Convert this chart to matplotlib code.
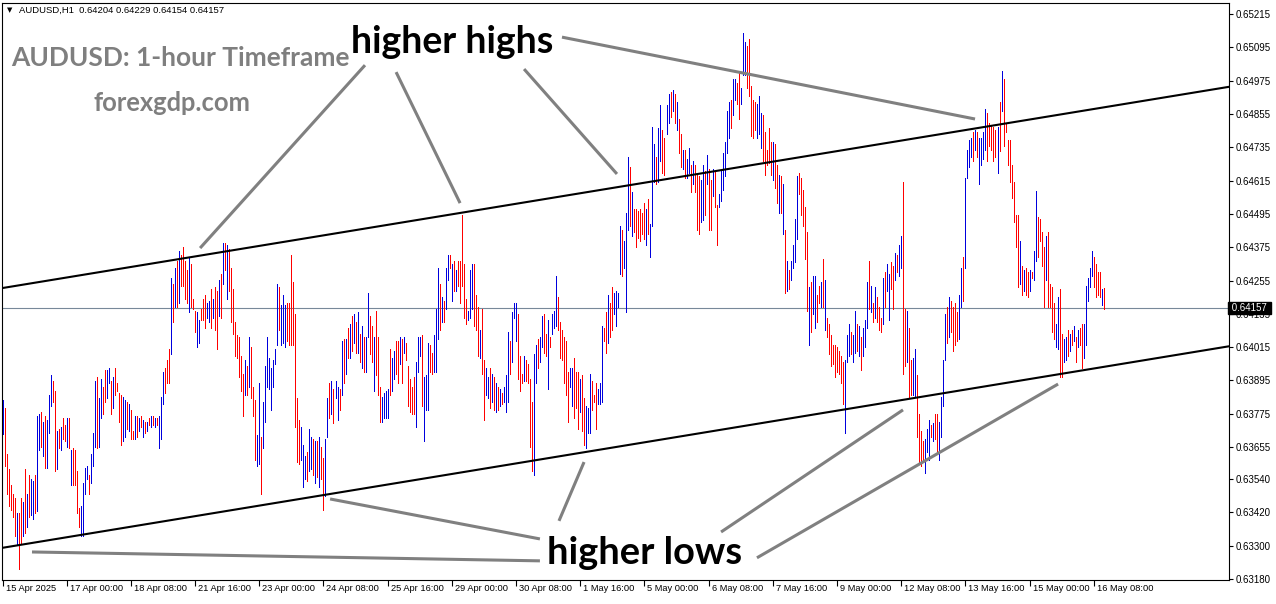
import numpy as np
import matplotlib
matplotlib.use("Agg")
import matplotlib.pyplot as plt
from matplotlib.collections import LineCollection
import matplotlib.transforms as mtrans

# ---------------- data ----------------
symbol_header = "AUDUSD,H1  0.64204 0.64229 0.64154 0.64157"
last_price = 0.64157

# hourly highs / lows in points (1 point = 0.00001)
high_pts = [
    63826, 63795, 63630, 63575, 63519, 63485, 63471, 63416, 63416, 63471,
    63457, 63575, 63485, 63554, 63540, 63533, 63554, 63768, 63775, 63782,
    63747, 63768, 63754, 63844, 63913, 63892, 63857, 63713, 63719, 63726,
    63761, 63733, 63761, 63761, 63644, 63650, 63644, 63568, 63437, 63443,
    63526, 63581, 63588, 63554, 63630, 63706, 63892, 63906, 63830, 63899,
    63871, 63933, 63933, 63940, 63892, 63906, 63940, 63885, 63851, 63844,
    63837, 63823, 63816, 63809, 63788, 63713, 63768, 63768, 63761, 63768,
    63754, 63747, 63747, 63761, 63768, 63768, 63761, 63761, 63768, 63837,
    63926, 63940, 63968, 64009, 64265, 64244, 64299, 64327, 64361, 64347,
    64375, 64327, 64292, 64340, 64313, 64189, 64147, 64140, 64113, 64154,
    64189, 64202, 64175, 64182, 64223, 64189,
    64230, 64216, 64258, 64278, 64389, 64389, 64382, 64368, 64299, 64223,
    64106, 64058, 64051, 63982, 63920, 63968, 63947, 64051, 64016, 63871,
    63823, 63699, 63885, 63692, 63816, 63947, 64051, 63975, 63940, 63968,
    64009, 64244, 64230, 64168, 64202, 64168, 64175, 64175, 64347, 64251,
    64133, 63830, 63754, 63726, 63664, 63623, 63637, 63719, 63692, 63685,
    63678, 63678, 63692, 63657, 63616, 63685, 63830, 63885, 63892, 63864,
    63892, 63871, 63864, 64037, 64044, 64044, 64085, 64099, 64127, 64133,
    64106, 64140, 64064, 64092, 64051, 64051, 64209, 64127, 64092, 64051,
    64147, 64051, 63871, 63837, 63851, 63857, 63864, 64009, 63975, 64002,
    64037, 64037, 64051, 64044, 64051, 64030, 63947, 63899, 63871, 63906,
    63961, 64051, 64051,
    64058, 63906, 63913, 64030, 64023, 63995, 64058, 64154, 64299, 64244,
    64196, 64182, 64299, 64347, 64347, 64313, 64327, 64292, 64327, 64327,
    64492, 64313, 64189, 64147, 64292, 64313, 64313, 64202, 64161, 64078,
    64154, 63968, 63940, 63906, 63940, 63920, 63906, 63885, 63871, 63864,
    63851, 63871, 63913, 64071, 64037, 64140, 64175, 64175, 64133, 63982,
    63920, 63982, 63968, 63954, 63899, 63816, 63992, 64023, 64044, 64051,
    64127, 64133, 64064, 64113, 64051, 64133, 64147, 64271, 64196, 64106,
    64078, 64051, 64037, 63926, 63940, 63940, 63975, 63926, 63926, 63899,
    63913, 63830, 63802, 63795, 63920, 63892, 63844, 63885, 63864, 63885,
    64092, 64085, 64140, 64202, 64175, 64230, 64209, 64216, 64209, 64451,
    64437, 64396,
    64499, 64699, 64665, 64575, 64513, 64513, 64506, 64513, 64499, 64534,
    64513, 64547, 64458, 64810, 64748, 64699, 64803, 64886, 64796, 64768,
    64886, 64927, 64934, 64941, 64927, 64899, 64837, 64782, 64727, 64727,
    64692, 64734, 64672, 64685, 64672, 64637, 64630, 64616, 64672, 64651,
    64706, 64658, 64616, 64658, 64651, 64527, 64568, 64651, 64713, 64754,
    64865, 64899, 64906, 64982, 64982, 64968, 65003, 64948, 65148, 65113,
    65099, 65127, 64955, 64906, 64899, 64892, 64920, 64858, 64851, 64789,
    64727, 64803, 64754, 64754, 64748, 64672, 64637, 64630, 64603, 64437,
    64327, 64292, 64327, 64382, 64478, 64630, 64644, 64623, 64582, 64520,
    64430, 64230, 64251, 64271, 64271, 64202, 64237, 64251, 64334, 64258,
    64120, 64099, 64058,
    64023, 64023, 64016, 64002, 63982, 63961, 63968, 64058, 64099, 64071,
    64058, 64147, 64099, 64092, 64051, 64085, 64113, 64251, 64327, 64237,
    64175, 64230, 64196, 64161, 64120, 64265, 64285, 64313, 64278, 64320,
    64306, 64354, 64347, 64382, 64416, 64610, 64154, 64147, 64085, 63968,
    63975, 64009, 63913, 63775, 63713, 63678, 63685, 63719, 63754, 63733,
    63740, 63775, 63775, 63747, 63837, 63968, 64133, 64161, 64196, 64182,
    64161, 64175, 64140, 64202, 64299, 64340, 64623, 64727, 64761, 64768,
    64789, 64796, 64789, 64768, 64768, 64789, 64872, 64858, 64823, 64817,
    64810, 64796, 64810, 64899, 65010, 64982, 64823, 64761, 64761, 64672,
    64610, 64492, 64492, 64396, 64306, 64292, 64299, 64285, 64292, 64285,
    64361,
    64579, 64485, 64478, 64430, 64375, 64416, 64430, 64244, 64230, 64175,
    64099, 64196, 64223, 64064, 64044, 64051, 64078, 64064, 64078, 64092,
    64051, 64078, 64085, 64099, 64099, 64237, 64265, 64299, 64361, 64340,
    64313, 64285, 64285, 64223, 64229,
]
low_pts = [
    63701, 63588, 63485, 63443, 63430, 63402, 63333, 63305, 63216, 63305,
    63333, 63347, 63368, 63402, 63409, 63395, 63416, 63423, 63644, 63657,
    63623, 63581, 63581, 63706, 63802, 63816, 63568, 63575, 63650, 63644,
    63685, 63678, 63657, 63650, 63519, 63519, 63519, 63416, 63368, 63333,
    63333, 63485, 63540, 63485, 63526, 63588, 63657, 63650, 63657, 63761,
    63775, 63816, 63830, 63885, 63775, 63795, 63844, 63857, 63747, 63664,
    63678, 63692, 63719, 63713, 63685, 63685, 63685, 63692, 63713, 63726,
    63692, 63706, 63713, 63733, 63726, 63733, 63726, 63733, 63650, 63685,
    63809, 63851, 63885, 63885, 63989, 64106, 64161, 64161, 64175, 64237,
    64237, 64189, 64175, 64140, 64161, 64154, 64071, 64016, 64030, 64113,
    64113, 64085, 64120, 64106, 64085, 64120,
    64078, 64009, 64127, 64120, 64244, 64292, 64189, 64216, 64106, 64064,
    63982, 63975, 63906, 63857, 63768, 63844, 63844, 63871, 63830, 63768,
    63609, 63588, 63595, 63485, 63650, 63747, 63871, 63864, 63788, 63871,
    63954, 64023, 64078, 64023, 64030, 64016, 64037, 64023, 64023, 64023,
    63726, 63602, 63595, 63609, 63512, 63540, 63533, 63568, 63575, 63554,
    63526, 63547, 63512, 63540, 63430, 63478, 63692, 63761, 63775, 63740,
    63830, 63754, 63788, 63844, 63885, 63920, 63975, 63975, 64002, 64030,
    63995, 63995, 63961, 63940, 63926, 63926, 64051, 63989, 63961, 63857,
    63913, 63844, 63747, 63747, 63761, 63761, 63761, 63844, 63857, 63899,
    63920, 63885, 63954, 63885, 63995, 63968, 63802, 63782, 63775, 63775,
    63726, 63926, 63982,
    63802, 63678, 63788, 63788, 63926, 63920, 63926, 63926, 64044, 64078,
    64106, 64106, 64154, 64258, 64299, 64182, 64216, 64216, 64237, 64175,
    64237, 64120, 64099, 64113, 64120, 64154, 64092, 64078, 63982, 63975,
    63920, 63754, 63844, 63830, 63795, 63816, 63788, 63782, 63788, 63802,
    63809, 63816, 63782, 63816, 63920, 63961, 64120, 64037, 63899, 63857,
    63885, 63892, 63892, 63885, 63657, 63568, 63554, 63885, 63940, 63961,
    64016, 63995, 63982, 63864, 64016, 64064, 64085, 64092, 64078, 63975,
    63968, 63885, 63844, 63747, 63871, 63802, 63761, 63795, 63719, 63782,
    63713, 63664, 63650, 63706, 63706, 63788, 63816, 63719, 63809, 63809,
    63816, 64037, 63995, 64030, 64051, 64078, 64133, 64092, 64161, 64278,
    64271, 64299,
    64140, 64437, 64451, 64416, 64430, 64375, 64409, 64396, 64423, 64403,
    64382, 64423, 64340, 64451, 64610, 64603, 64610, 64685, 64644, 64637,
    64782, 64823, 64844, 64865, 64823, 64796, 64713, 64665, 64658, 64623,
    64623, 64644, 64575, 64603, 64575, 64437, 64423, 64465, 64472, 64492,
    64603, 64437, 64437, 64561, 64520, 64382, 64520, 64541, 64582, 64630,
    64713, 64768, 64803, 64851, 64906, 64892, 64837, 64892, 64996, 64996,
    64948, 64920, 64775, 64768, 64796, 64768, 64782, 64734, 64685, 64637,
    64672, 64679, 64637, 64616, 64589, 64534, 64499, 64499, 64423, 64209,
    64216, 64223, 64258, 64299, 64320, 64403, 64568, 64492, 64451, 64334,
    64147, 64023, 64071, 64133, 64085, 64106, 64175, 64161, 64161, 64078,
    64051, 63989, 63947,
    63954, 63906, 63926, 63920, 63885, 63809, 63706, 63961, 63982, 63989,
    63961, 63995, 64002, 63982, 63933, 63982, 64016, 64085, 64154, 64140,
    64106, 64120, 64106, 64078, 64071, 64099, 64161, 64216, 64113, 64223,
    64154, 64258, 64285, 64271, 64299, 63920, 63947, 63961, 63830, 63844,
    63844, 63837, 63692, 63595, 63588, 63609, 63561, 63637, 63609, 63692,
    63678, 63685, 63637, 63609, 63692, 63802, 63968, 64030, 64051, 64071,
    64002, 64023, 64037, 64044, 64161, 64182, 64299, 64623, 64665, 64699,
    64685, 64727, 64699, 64603, 64672, 64692, 64727, 64685, 64741, 64727,
    64685, 64699, 64644, 64720, 64865, 64741, 64789, 64672, 64610, 64554,
    64465, 64375, 64230, 64244, 64202, 64216, 64202, 64196, 64216, 64265,
    64258,
    64327, 64340, 64396, 64306, 64161, 64258, 64161, 64161, 64071, 64044,
    64016, 64009, 63906, 63906, 63961, 63968, 63982, 64002, 64023, 64037,
    63961, 64016, 64023, 63940, 63975, 64023, 64182, 64230, 64271, 64230,
    64196, 64202, 64196, 64168, 64154,
]
# u = bullish bar (close > open), d = bearish bar
bar_dir = (
    "uddddddudd" "ududuuduud" "uduuuddudu" "ddududdddu" "uuuduuuduu"
    "dduududddd" "uududdudud" "ududududuu" "udddududud" "ddduddduud"
    "dduudu"
    "ddudududdd" "dddddududd" "duuduuuuuu" "uuduuudddd" "ddduuuduud"
    "ududduudud" "uududududu" "dududuuddu" "ddduuuuduu" "ddududdddd"
    "uuu"
    "duuudduuud" "uduudududd" "ddduuudddu" "dduudududu" "duuuduuudd"
    "dudddduudu" "udduduuudd" "dddduudddu" "dduuuddduu" "uddudduuuu"
    "du"
    "uududddddd" "uduuuduudd" "uudududdud" "uududdduud" "uddudduuuu"
    "uuduudduuu" "ddddduuudd" "ddduddudud" "uduuuudddd" "duduuddudu"
    "ddd"
    "dddddduuud" "uududuuudu" "duddduduud" "duduuddudd" "uudddduuud"
    "udduuuudud" "ddduuduuuu" "duduuuuddd" "ddududdddd" "dddududdud"
    "u"
    "uddddudddd" "uudduududu" "dudduuuuud" "dddud"
)

time_labels = ["15 Apr 2025", "17 Apr 00:00", "18 Apr 08:00", "21 Apr 16:00",
               "23 Apr 00:00", "24 Apr 08:00", "25 Apr 16:00", "29 Apr 00:00",
               "30 Apr 08:00", "1 May 16:00", "5 May 00:00", "6 May 08:00",
               "7 May 16:00", "9 May 00:00", "12 May 08:00", "13 May 16:00",
               "15 May 00:00", "16 May 08:00"]
time_label_bars = [0, 32, 64, 96, 128, 160, 192, 224, 256, 288, 320, 352,
                   384, 416, 448, 480, 512, 544]

price_ticks = [0.65215, 0.65095, 0.64975, 0.64855, 0.64735, 0.64615, 0.64495,
               0.64375, 0.64255, 0.64135, 0.64015, 0.63895, 0.63775, 0.63655,
               0.63540, 0.63420, 0.63300, 0.63180]

# channel lines: (bar, price) anchors
upper_channel = ((0, 0.64228), (549, 0.64879))
lower_channel = ((0, 0.63292), (549, 0.63944))

# annotation pointer lines: (bar, price) -> (bar, price)
highs_pointers = [((180.7, 0.65031), (98.5, 0.64372)),
                  ((196.2, 0.65006), (228.1, 0.64534)),
                  ((260.0, 0.65017), (306.3, 0.64639)),
                  ((278.9, 0.65132), (484.8, 0.64837))]
lows_pointers = [((14.7, 0.63277), (267.9, 0.63245)),
                 ((163.3, 0.63468), (267.9, 0.63324)),
                 ((289.9, 0.63601), (277.4, 0.63389)),
                 ((358.2, 0.63349), (448.9, 0.63789)),
                 ((376.1, 0.63256), (526.2, 0.63882))]

assert len(high_pts) == len(low_pts) == len(bar_dir), (len(high_pts), len(low_pts), len(bar_dir))

high = np.array(high_pts) / 1e5
low = np.array(low_pts) / 1e5
n = len(high)

# ---------------- figure ----------------
W, H = 1276, 604
fig = plt.figure(figsize=(W / 100, H / 100), dpi=100)
fig.patch.set_facecolor("white")
ax = fig.add_axes([2 / W, (H - 580) / H, 1227 / W, 577 / H])
ax.set_facecolor("white")

x = np.arange(n)
segs = [((xi, lo), (xi, hi)) for xi, lo, hi in zip(x, low, high)]
cols = ["#0000dd" if d == "u" else "#ff0000" for d in bar_dir]
ax.add_collection(LineCollection(segs, colors=cols, linewidths=0.72,
                                 antialiaseds=False, zorder=3))

ax.set_xlim(-0.25, 611.4)
ax.set_ylim(0.63176, 0.65255)

# current price line
ax.axhline(last_price, color="#778899", lw=0.8, zorder=2)

# channel
for a, b in (upper_channel, lower_channel):
    ax.axline(a, b, color="black", lw=1.5, zorder=4)

# pointers
for a, b in highs_pointers + lows_pointers:
    ax.plot([a[0], b[0]], [a[1], b[1]], color="#808080", lw=2.2,
            solid_capstyle="butt", zorder=5)

# axes styling
for s in ax.spines.values():
    s.set_color("black")
    s.set_linewidth(0.8)
ax.yaxis.tick_right()
ax.set_yticks(price_ticks)
ax.set_yticklabels([f"{v:.5f}" for v in price_ticks])
ax.tick_params(axis="y", direction="out", length=3, width=0.8, pad=2,
               labelsize=7.0, right=True, left=False)
for t in ax.get_yticklabels():
    t.set_family("Liberation Sans")

ax.set_xticks(time_label_bars)
ax.tick_params(axis="x", direction="out", length=4, width=0.8, labelbottom=False)
trans = mtrans.offset_copy(ax.get_xaxis_transform(), fig=fig, x=3, y=-4, units="dots")
for b, lab in zip(time_label_bars, time_labels):
    ax.text(b, 0, lab, transform=trans, ha="left", va="top", fontsize=6.7,
            family="Liberation Sans", color="black")

# last price tag
ax.text(1.0, last_price, " 0.64157 ", transform=ax.get_yaxis_transform(),
        ha="left", va="center", fontsize=7.0, family="Liberation Sans",
        color="white", bbox=dict(facecolor="black", edgecolor="black", pad=0.8),
        zorder=10, clip_on=False)

# header
fig.text(7 / W, 1 - 10 / H, "\u25BC", fontsize=5, va="center", ha="left", color="black")
fig.text(19 / W, 1 - 10 / H, symbol_header, fontsize=6.8, va="center", ha="left",
         family="Liberation Sans", color="black")

# titles
fig.text(180 / W, 1 - 58 / H, "AUDUSD: 1-hour Timeframe", fontsize=19,
         fontweight="bold", family="Lato", color="#7f7f7f", ha="center", va="center")
fig.text(172 / W, 1 - 103 / H, "forexgdp.com", fontsize=18.4,
         fontweight="bold", family="Lato", color="#7f7f7f", ha="center", va="center")
fig.text(452 / W, 1 - 42 / H, "higher highs", fontsize=27,
         fontweight="bold", family="Lato", color="black", ha="center", va="center")
fig.text(645 / W, 1 - 553 / H, "higher lows", fontsize=27.4,
         fontweight="bold", family="Lato", color="black", ha="center", va="center")

fig.savefig("out.png", dpi=100, facecolor="white")
